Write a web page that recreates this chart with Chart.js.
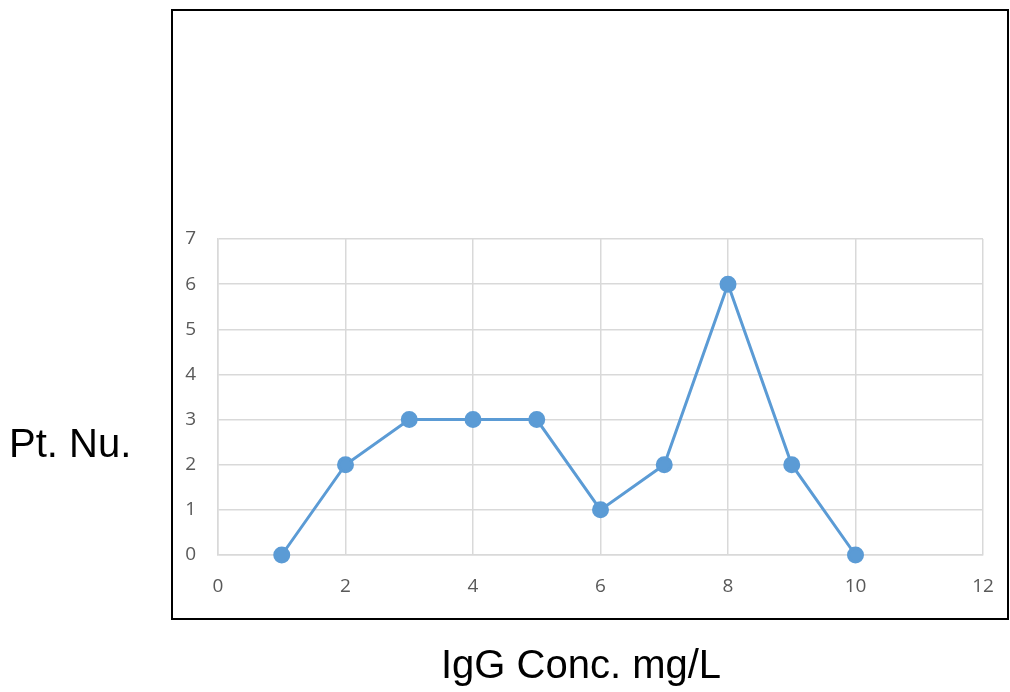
<!DOCTYPE html>
<html>
<head>
<meta charset="utf-8">
<script src="https://cdn.jsdelivr.net/npm/chart.js@4/dist/chart.umd.min.js"></script>
<style>
  html, body { margin: 0; padding: 0; background: #fff; }
  #wrap { width: 1010px; height: 692px; position: relative; }
</style>
</head>
<body>
<div id="wrap"><canvas id="myChart" width="1010" height="692"></canvas></div>
<script>
// values
let conc = [1, 2, 3, 4, 5, 6, 7, 8, 9, 10];
let patients = [0, 2, 3, 3, 3, 1, 2, 6, 2, 0];
let xTitle = "IgG Conc. mg/L";
let yTitle = "Pt. Nu.";

let points = conc.map((c, i) => ({ x: c, y: patients[i] }));

// black frame and the two titles outside it
let frame = {
    id: 'frame',
    afterDraw(chart) {
        let c = chart.ctx;
        c.save();
        c.strokeStyle = '#000';
        c.lineWidth = 2;
        c.strokeRect(172, 10, 836, 609);
        c.fillStyle = '#000';
        c.font = '40px "Liberation Sans", Arial, sans-serif';
        c.textBaseline = 'alphabetic';
        c.textAlign = 'left';
        c.fillText(yTitle, 9, 457);
        c.textAlign = 'center';
        c.fillText(xTitle, 581, 678);
        c.restore();
    }
};

let tickFont = { size: 19, family: '"Open Sans", sans-serif' };

let ctx = document.getElementById('myChart').getContext('2d');
let myChart = new Chart(ctx, {
    type: 'scatter',
    data: {
        datasets: [{
            data: points,
            showLine: true,
            clip: false,
            borderColor: '#5b9bd5',
            backgroundColor: '#5b9bd5',
            borderWidth: 3,
            pointRadius: 7,
            pointHoverRadius: 7,
        }]
    },
    options: {
        responsive: false,
        animation: false,
        layout: { padding: { left: 0, right: 27, top: 239, bottom: 0 } },
        plugins: { legend: { display: false }, tooltip: { enabled: false } },
        scales: {
            x: {
                min: 0, max: 12,
                afterFit(s) { s.height = 137; s.paddingLeft = 0; s.paddingRight = 0; },
                ticks: { stepSize: 2, padding: 20, color: '#595959', font: tickFont },
                grid: { color: '#d9d9d9', lineWidth: 1.5, drawTicks: false },
                border: { color: '#d9d9d9', width: 1.5 }
            },
            y: {
                min: 0, max: 7,
                afterFit(s) { s.width = 218; s.paddingTop = 0; s.paddingBottom = 0; },
                ticks: { stepSize: 1, padding: 22, color: '#595959', font: tickFont },
                grid: { color: '#d9d9d9', lineWidth: 1.5, drawTicks: false },
                border: { color: '#d9d9d9', width: 1.5 }
            }
        }
    },
    plugins: [frame]
});
</script>
</body>
</html>
